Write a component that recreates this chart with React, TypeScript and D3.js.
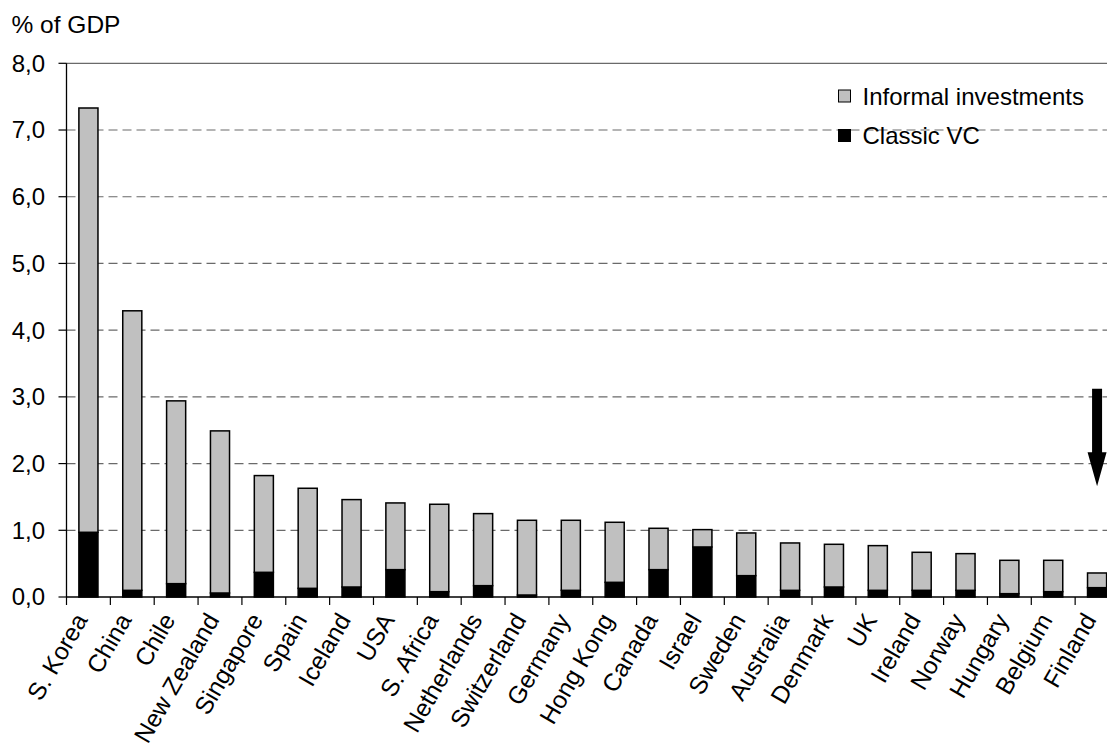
import React from "react";
import * as d3 from "d3";

// Informal investment and classic venture capital, % of GDP
const countries = [
  "S. Korea", "China", "Chile", "New Zealand", "Singapore", "Spain", "Iceland",
  "USA", "S. Africa", "Netherlands", "Switzerland", "Germany", "Hong Kong",
  "Canada", "Israel", "Sweden", "Australia", "Denmark", "UK", "Ireland",
  "Norway", "Hungary", "Belgium", "Finland",
];
const classicVC = [
  0.97, 0.10, 0.20, 0.06, 0.37, 0.13, 0.15, 0.41, 0.08, 0.17, 0.03, 0.10,
  0.22, 0.41, 0.75, 0.32, 0.10, 0.15, 0.10, 0.10, 0.10, 0.05, 0.08, 0.14,
];
const informal = [
  6.36, 4.19, 2.74, 2.43, 1.45, 1.50, 1.31, 1.00, 1.31, 1.08, 1.12, 1.05,
  0.90, 0.62, 0.26, 0.64, 0.71, 0.64, 0.67, 0.57, 0.55, 0.50, 0.47, 0.22,
];
const yTicks = [0, 1, 2, 3, 4, 5, 6, 7, 8];
const seriesNames = ["Classic VC", "Informal investments"];
// Downward arrow beside the last country, in axis units
const arrowFrom = 3.12;
const arrowTo = 1.66;
const arrowHeadStart = 2.17;

const W = 1107;
const H = 747;
const FONT = "'Liberation Sans', Arial, sans-serif";

export default function App() {
  const left = 66.5;
  const right = 1119;
  const top = 63.3;
  const bottom = 597;

  const x = d3.scaleBand<string>().domain(countries).range([left, right]).padding(0);
  const y = d3.scaleLinear().domain([0, 8]).range([bottom, top]);
  const barW = x.bandwidth() * 0.435;

  const rows = countries.map((c, i) => ({
    country: c,
    vc: classicVC[i],
    inf: informal[i],
  }));
  const stacked = d3.stack<any>().keys(["vc", "inf"])(rows);
  const fills = ["#000000", "#C0C0C0"];
  const fmt = (v: number) => v.toFixed(1).replace(".", ",");

  const lastC = countries[countries.length - 1];
  const ax = (x(lastC) as number) + x.bandwidth() / 2;
  const shaftHalf = 5;
  const headHalf = 9.5;

  return (
    <svg
      width={W}
      height={H}
      style={{ position: "absolute", left: 0, top: 0, display: "block", background: "#fff" }}
      fontFamily={FONT}
    >
      <rect x={0} y={0} width={W} height={H} fill="#fff" />
      <text x={11.5} y={33.3} fontSize={24.5} fill="#000">% of GDP</text>

      {/* gridlines */}
      {yTicks.filter((t) => t > 0).map((t) => (
        <line
          key={"g" + t}
          x1={left}
          x2={right}
          y1={y(t)}
          y2={y(t)}
          stroke="#6a6a6a"
          strokeWidth={1.2}
          strokeDasharray={t === 8 ? undefined : "9,5"}
        />
      ))}

      {/* bars */}
      {stacked.map((layer, li) =>
        layer.map((d: any, i: number) => {
          const cx = (x(countries[i]) as number) + x.bandwidth() / 2;
          return (
            <rect
              key={li + "-" + i}
              x={cx - barW / 2}
              y={y(d[1])}
              width={barW}
              height={y(d[0]) - y(d[1])}
              fill={fills[li]}
              stroke="#000"
              strokeWidth={1.5}
            />
          );
        })
      )}

      {/* y axis */}
      <line x1={left} x2={left} y1={top} y2={bottom} stroke="#000" strokeWidth={1.3} />
      {yTicks.map((t) => (
        <g key={"y" + t}>
          <line x1={left - 8} x2={left} y1={y(t)} y2={y(t)} stroke="#000" strokeWidth={1.2} />
          <text x={45} y={y(t)} dy="0.35em" textAnchor="end" fontSize={24} fill="#000">
            {fmt(t)}
          </text>
        </g>
      ))}

      {/* x axis */}
      <line x1={left} x2={right} y1={bottom} y2={bottom} stroke="#000" strokeWidth={1.3} />
      {countries.map((c, i) => (
        <line
          key={"xt" + i}
          x1={(x(c) as number)}
          x2={(x(c) as number)}
          y1={bottom}
          y2={bottom + 8}
          stroke="#000"
          strokeWidth={1.2}
        />
      ))}
      {countries.map((c) => {
        const cx = (x(c) as number) + x.bandwidth() / 2;
        return (
          <text
            key={"xl" + c}
            transform={`translate(${cx},${619.8}) rotate(-60)`}
            textAnchor="end"
            fontSize={24.5}
            fill="#000"
          >
            {c}
          </text>
        );
      })}

      {/* legend */}
      {[1, 0].map((si, k) => (
        <g key={"lg" + si}>
          <rect
            x={838.5}
            y={90 + k * 39.5}
            width={12}
            height={12}
            fill={fills[si]}
            stroke="#000"
            strokeWidth={1}
          />
          <text x={862.5} y={105 + k * 38.5} fontSize={24} fill="#000">
            {seriesNames[si]}
          </text>
        </g>
      ))}

      {/* arrow */}
      <path
        d={`M${ax - shaftHalf},${y(arrowFrom)} L${ax + shaftHalf},${y(arrowFrom)} L${ax + shaftHalf},${y(arrowHeadStart)} L${ax + headHalf},${y(arrowHeadStart)} L${ax},${y(arrowTo)} L${ax - headHalf},${y(arrowHeadStart)} L${ax - shaftHalf},${y(arrowHeadStart)} Z`}
        fill="#000"
      />
    </svg>
  );
}
